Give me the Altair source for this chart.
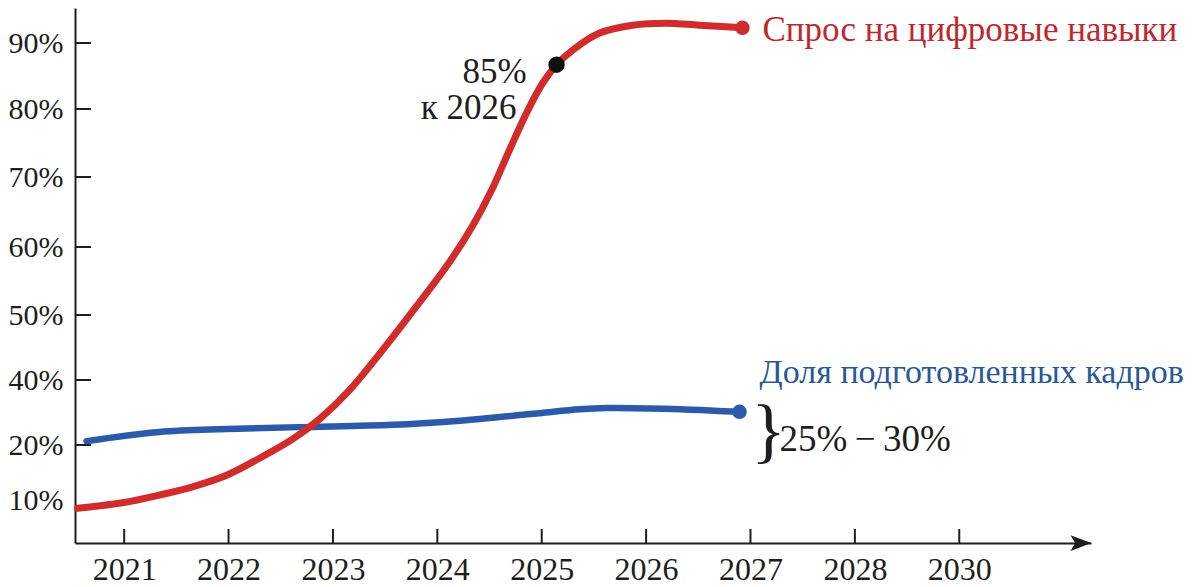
import json
import altair as alt
import pandas as pd

FONT = "Liberation Serif"

# x positions are tick indices (the axis shows 2021 … 2028, then 2030)
TICK_LABELS = ["2021", "2022", "2023", "2024", "2025", "2026", "2027", "2028", "2030"]
TICK_POS = list(range(len(TICK_LABELS)))
Y_TICKS = [10, 20, 40, 50, 60, 70, 80, 90]

# demand for digital skills (red)
RED_T = [-0.446, -0.015, 0.339, 0.655, 0.981, 1.297, 1.613, 1.872, 2.159, 2.475, 2.801,
         3.117, 3.337, 3.529, 3.692, 3.854, 4.008, 4.142, 4.295, 4.554, 4.870, 5.195,
         5.511, 5.923]
RED_V = [8.5, 9.5, 10.9, 12.4, 14.5, 17.6, 21.8, 28.0, 36.9, 44.6, 51.3,
         57.8, 63.0, 68.4, 74.0, 79.4, 83.9, 86.7, 88.9, 91.5, 92.7, 93.0,
         92.7, 92.3]
MILESTONE_INDEX = 17

# share of trained personnel (blue)
BLUE_T = [-0.36, 0.339, 0.981, 1.68, 2.571, 3.184, 3.596, 3.979, 4.36, 4.621, 5.253, 5.895]
BLUE_V = [21.2, 24.0, 24.9, 25.5, 26.2, 27.4, 28.6, 29.8, 31.0, 31.4, 31.1, 30.2]

RED_LABEL = "Спрос на цифровые навыки"
BLUE_LABEL = "Доля подготовленных кадров"
MILESTONE_LABEL_1 = "85%"
MILESTONE_LABEL_2 = "к 2026"
RANGE_LABEL = "25%\u2009\u2212\u200930%"

X_DOMAIN = [-0.471, 9.262]
# the printed axis is not evenly spaced: piecewise scale
Y_DOMAIN = [2.2, 10, 20, 40, 50, 60, 70, 80, 90, 95.3]
Y_RANGE = [535, 492, 437, 372, 307, 239, 169, 101, 35, 0]

RED = "#d22b2b"
BLUE = "#2c5aa8"
INK = "#1e1e1e"

red_df = pd.DataFrame({"t": RED_T, "v": RED_V})
blue_df = pd.DataFrame({"t": BLUE_T, "v": BLUE_V})
red_end = red_df.iloc[[-1]]
blue_end = blue_df.iloc[[-1]]
milestone = red_df.iloc[[MILESTONE_INDEX]]

xscale = alt.Scale(domain=X_DOMAIN, nice=False, zero=False)
yscale = alt.Scale(domain=Y_DOMAIN, range=Y_RANGE, nice=False, zero=False)

xaxis = alt.Axis(values=TICK_POS, labelExpr=json.dumps(TICK_LABELS) + "[datum.value]",
                 ticks=False, tickSize=0, grid=False, domainColor=INK, domainWidth=2,
                 labelFont=FONT, labelFontSize=32, labelColor=INK, labelPadding=11,
                 title=None, labelFlush=False, labelOverlap=False)
yaxis = alt.Axis(values=Y_TICKS, labelExpr="datum.value + '%'",
                 ticks=False, tickSize=0, grid=False, domainColor=INK, domainWidth=2,
                 labelFont=FONT, labelFontSize=30, labelColor=INK, labelPadding=12,
                 title=None, labelFlush=False, labelOverlap=False)

X = alt.X("t:Q", scale=xscale, axis=xaxis)
Y = alt.Y("v:Q", scale=yscale, axis=yaxis)

layers = []

# axis ticks pointing into the plot
xt_df = pd.DataFrame({"t": TICK_POS, "v": [Y_DOMAIN[0]] * len(TICK_POS)})
layers.append(alt.Chart(xt_df).mark_tick(orient="vertical", size=14, thickness=2,
                                         color=INK, yOffset=-7, opacity=1).encode(x=X, y=Y))
yt_vals = [v for v in Y_TICKS if v != 10]
yt_df = pd.DataFrame({"t": [X_DOMAIN[0]] * len(yt_vals), "v": yt_vals})
layers.append(alt.Chart(yt_df).mark_tick(orient="horizontal", size=16, thickness=2,
                                         color=INK, xOffset=8, opacity=1).encode(x=X, y=Y))

# arrow at the end of the time axis
arrow_df = pd.DataFrame({"t": [X_DOMAIN[1]], "v": [Y_DOMAIN[0]]})
layers.append(alt.Chart(arrow_df).mark_point(
    shape="M -1 -0.75 L 1 0 L -1 0.75 L -0.55 0 Z", filled=True, size=441,
    color=INK, opacity=1, xOffset=-10).encode(x=X, y=Y))

# lines
layers.append(alt.Chart(blue_df).mark_line(color=BLUE, strokeWidth=6.5, interpolate="catmull-rom",
                                           strokeCap="round").encode(x=X, y=Y))
layers.append(alt.Chart(red_df).mark_line(color=RED, strokeWidth=7, interpolate="catmull-rom",
                                          strokeCap="round").encode(x=X, y=Y))

# end dots
layers.append(alt.Chart(red_end).mark_circle(color=RED, size=210, opacity=1).encode(x=X, y=Y))
layers.append(alt.Chart(blue_end).mark_circle(color=BLUE, size=210, opacity=1).encode(x=X, y=Y))
layers.append(alt.Chart(milestone).mark_circle(color="#111111", size=270, opacity=1).encode(x=X, y=Y))

# texts
def label(df, text, dx, dy, align, color, size):
    return alt.Chart(df).mark_text(text=text, dx=dx, dy=dy, align=align, baseline="middle",
                                   font=FONT, fontSize=size, color=color).encode(x=X, y=Y)

layers.append(label(red_end, RED_LABEL, 20, 2, "left", "#c0272d", 35))
layers.append(label(blue_end, BLUE_LABEL, 20, -39, "left", "#2b5797", 34))
layers.append(label(milestone, MILESTONE_LABEL_1, -30, 7, "right", INK, 35))
layers.append(label(milestone, MILESTONE_LABEL_2, -40, 43, "right", INK, 35))
layers.append(label(blue_end, "}", 29, 20, "center", INK, 72))
layers.append(label(blue_end, RANGE_LABEL, 40, 28, "left", INK, 37))

chart = alt.layer(*layers).properties(
    width=1016, height=535,
    autosize=alt.AutoSizeParams(type="none"),
    padding={"left": 67, "top": 0, "right": 98, "bottom": 44},
    background="white",
).configure_view(stroke=None)

chart.save("out.html", embed_options={"renderer": "svg", "actions": False})
